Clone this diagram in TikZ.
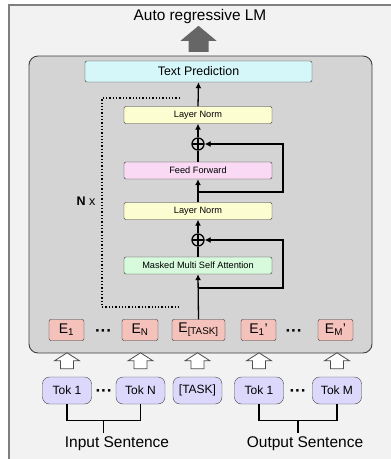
\documentclass[tikz,border=0pt]{standalone}
\usepackage{fontspec}
\setmainfont{Liberation Sans}
\usetikzlibrary{arrows.meta}

\definecolor{framebg}{HTML}{F2F2F2}
\definecolor{frameline}{HTML}{7F7F7F}
\definecolor{blockbg}{HTML}{D4D4D4}
\definecolor{predfill}{HTML}{D6F7FA}
\definecolor{normfill}{HTML}{FDFDD2}
\definecolor{fffill}{HTML}{F9D9F3}
\definecolor{attfill}{HTML}{D7F9DC}
\definecolor{embfill}{HTML}{F4C1BB}
\definecolor{tokfill}{HTML}{DCD8FC}

\tikzset{
  layer/.style={draw=black!80, rounded corners=2pt, minimum width=148pt,
    minimum height=17pt, inner sep=0pt, font=\fontsize{9.2}{10}\selectfont},
  emb/.style={draw=black!80, fill=embfill, rounded corners=2pt,
    minimum height=21pt, inner sep=0pt, font=\fontsize{14}{16}\selectfont},
  tok/.style={draw=black!75, fill=tokfill, rounded corners=7pt,
    minimum width=49pt, minimum height=27pt, inner sep=0pt,
    font=\fontsize{12}{14}\selectfont},
  addnode/.style={circle, draw, line width=1.3pt, minimum size=12pt, inner sep=0pt,
    path picture={\draw[line width=1.1pt] (path picture bounding box.north) -- (path picture bounding box.south)
      (path picture bounding box.west) -- (path picture bounding box.east);}},
  flow/.style={-{Latex[length=6pt,width=6pt]}, line width=1.3pt},
  bracket/.style={line width=1.3pt},
  hollow/.style={draw=black!70, fill=white, line width=0.8pt, line join=miter},
  dots/.style={inner sep=0pt, font=\fontsize{17}{18}\bfseries\selectfont},
}

\begin{document}
\begin{tikzpicture}[x=1pt,y=-1pt]
\useasboundingbox (0,0) rectangle (391,459);
% Outer frame
  \fill[framebg] (9,5) rectangle (395,463);
  \draw[frameline, line width=2pt] (9,463) -- (9,5) -- (395,5);
% Title
  \node[font=\fontsize{15.4}{18}\selectfont] (title) at (200,17) {Auto regressive LM};
% Decoder block
  \draw[black!75, fill=blockbg, rounded corners=9pt, line width=0.9pt] (29,56) rectangle (372,353);
% Output head
  \node[layer, fill=predfill, minimum width=227pt, minimum height=21pt,
    font=\fontsize{12.4}{14}\selectfont] (pred) at (198.5,71.5) {Text Prediction};
  \fill[black!60] (pred.north) ++(-10,-9) -- ++(0,-11) -- ++(-8,0) -- ++(18,-15)
    -- ++(18,15) -- ++(-8,0) -- ++(0,11) -- cycle;
% Transformer layer
  \node[layer, fill=normfill] (norm1) at (198,115) {Layer Norm};
  \node[addnode] (add1) at (198,144) {};
  \node[layer, fill=fffill] (ff) at (198,170.5) {Feed Forward};
  \node[layer, fill=normfill] (norm2) at (198,211) {Layer Norm};
  \node[addnode] (add2) at (198,240) {};
  \node[layer, fill=attfill] (att) at (198,265.5) {Masked Multi Self Attention};
% Repeat marker
  \draw[line width=1.3pt, dotted] (180,98) -- (102,98) -- (102,307) -- (180,307);
  \node[anchor=east, font=\fontsize{12.5}{14}\selectfont] (rep) at (99,201) {\textbf{N} x};
% Embeddings
  \node[emb, minimum width=35pt] (e1) at (66.5,330) {E\textsubscript{1}};
  \node[emb, minimum width=36pt] (eN) at (140,330) {E\textsubscript{N}};
  \node[emb, minimum width=53pt] (etask) at (198.5,330) {E\textsubscript{[TASK]}};
  \node[emb, minimum width=35pt] (e1p) at (258.5,330) {E\textsubscript{1}'};
  \node[emb, minimum width=35pt] (eMp) at (335.5,330) {E\textsubscript{M}'};
  \node[dots, anchor=base] (edots1) at (103.5,336) {···};
  \node[dots, anchor=base] (edots2) at (294,336) {···};
% Data flow
  \coordinate (res2) at (198,288);
  \coordinate (res1) at (198,192);
  \draw[flow] (etask.north) -- (att.south);
  \draw[flow] (res2) -- (283,288) |- (add2.east);
  \draw[line width=1.3pt] (att.north) -- (add2.south);
  \draw[flow] (add2.north) -- (norm2.south);
  \draw[flow] (norm2.north) -- (ff.south);
  \draw[flow] (res1) -- (283,192) |- (add1.east);
  \draw[line width=1.3pt] (ff.north) -- (add1.south);
  \draw[flow] (add1.north) -- (norm1.south);
  \draw[flow] (norm1.north) -- (pred.south);
% Tokens
  \node[tok] (tok1) at (67,390.5) {Tok 1};
  \node[tok] (tokN) at (140.5,390.5) {Tok N};
  \node[tok] (task) at (197.5,390.5) {[TASK]};
  \node[tok] (tok1p) at (259,390.5) {Tok 1};
  \node[tok] (tokM) at (337,390.5) {Tok M};
  \node[dots, anchor=base] (tdots1) at (104,396) {···};
  \node[dots, anchor=base] (tdots2) at (298,396) {···};
% Token to embedding arrows
  \foreach \t in {tok1,tokN,task,tok1p,tokM}
    \draw[hollow] (\t.north) ++(-6.5,-8) -- ++(0,-8) -- ++(-6,0) -- ++(12.5,-8)
      -- ++(12.5,8) -- ++(-6,0) -- ++(0,8) -- cycle;
% Sentence brackets
  \node[font=\fontsize{15.5}{18}\selectfont] (insent) at (117,444) {Input Sentence};
  \node[font=\fontsize{15.5}{18}\selectfont] (outsent) at (305,444) {Output Sentence};
  \draw[bracket] (tok1.south) -- ++(0,16) -| (tokN.south);
  \coordinate (inmid) at (103.5,420);
  \draw[bracket] (inmid) -- (inmid |- insent.north);
  \draw[bracket] (tok1p.south) -- ++(0,16) -| (tokM.south);
  \coordinate (outmid) at (298,420);
  \draw[bracket] (outmid) -- (outmid |- outsent.north);
\end{tikzpicture}
\end{document}
